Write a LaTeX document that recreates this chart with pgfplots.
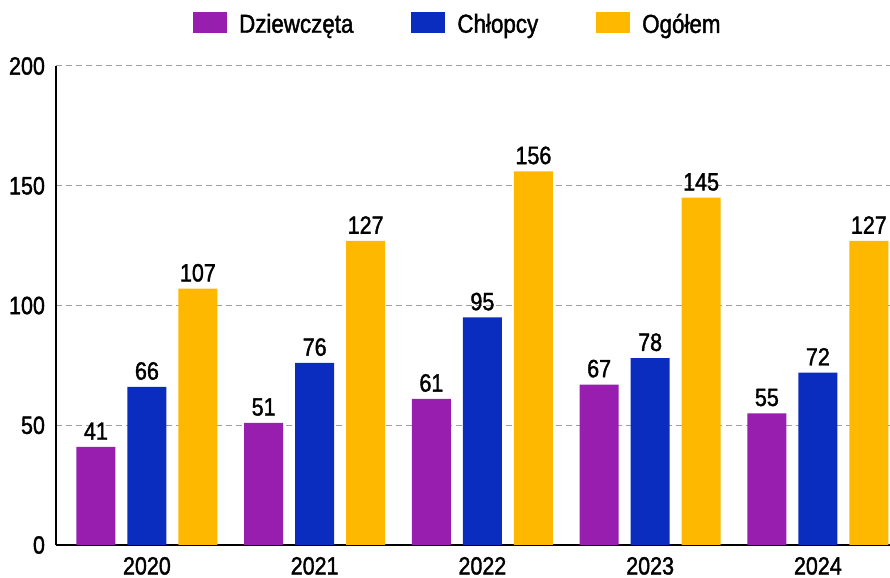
\documentclass[border=0pt]{standalone}
\usepackage{fontspec}
\setmainfont{Liberation Sans}[FakeStretch=0.86, FakeBold=1.5]
\usepackage{pgfplots}
\pgfplotsset{compat=1.18}
\definecolor{cP}{HTML}{981EAF}
\definecolor{cB}{HTML}{0A2CBF}
\definecolor{cO}{HTML}{FFB800}
\begin{document}
\begin{tikzpicture}
\useasboundingbox (-28pt,-16.5pt) rectangle (417pt,272.5pt);
\begin{axis}[
  scale only axis, width=417pt, height=239.5pt,
  xmin=-0.542, xmax=4.43, ymin=0, ymax=200,
  ybar, bar width=19.5pt,
  axis lines=left, axis line style={black, line width=1pt, -},
  xtick={0,1,2,3,4}, xticklabels={2020,2021,2022,2023,2024},
  ytick={0,50,100,150,200},
  ymajorgrids, grid style={dash pattern=on 3pt off 2pt, gray!75, line width=0.5pt},
  major tick length=0pt,
  tick label style={font=\fontsize{12.5}{14}\selectfont, black},
  /pgf/number format/assume math mode=true,
  yticklabel style={xshift=-2pt},
  xticklabel style={yshift=-2.5pt},
  nodes near coords,
  nodes near coords style={font=\fontsize{12.5}{14}\selectfont, black},
  legend style={at={(0.483,1.086)}, anchor=center, draw=none, fill=none,
    legend columns=3, font=\fontsize{13}{15}\selectfont,
    /tikz/every odd column/.append style={column sep=4pt},
    /tikz/every even column/.append style={column sep=27pt}},
  legend image code/.code={\fill[#1] (0pt,-4pt) rectangle (17pt,6.5pt);},
]
\addplot[fill=cP, draw=none, bar shift=-25.5pt] coordinates {(0,41) (1,51) (2,61) (3,67) (4,55)};
\addplot[fill=cB, draw=none, bar shift=0pt] coordinates {(0,66) (1,76) (2,95) (3,78) (4,72)};
\addplot[fill=cO, draw=none, bar shift=25.5pt] coordinates {(0,107) (1,127) (2,156) (3,145) (4,127)};
\legend{Dziewczęta, Chłopcy, Ogółem}
\end{axis}
\end{tikzpicture}
\end{document}
